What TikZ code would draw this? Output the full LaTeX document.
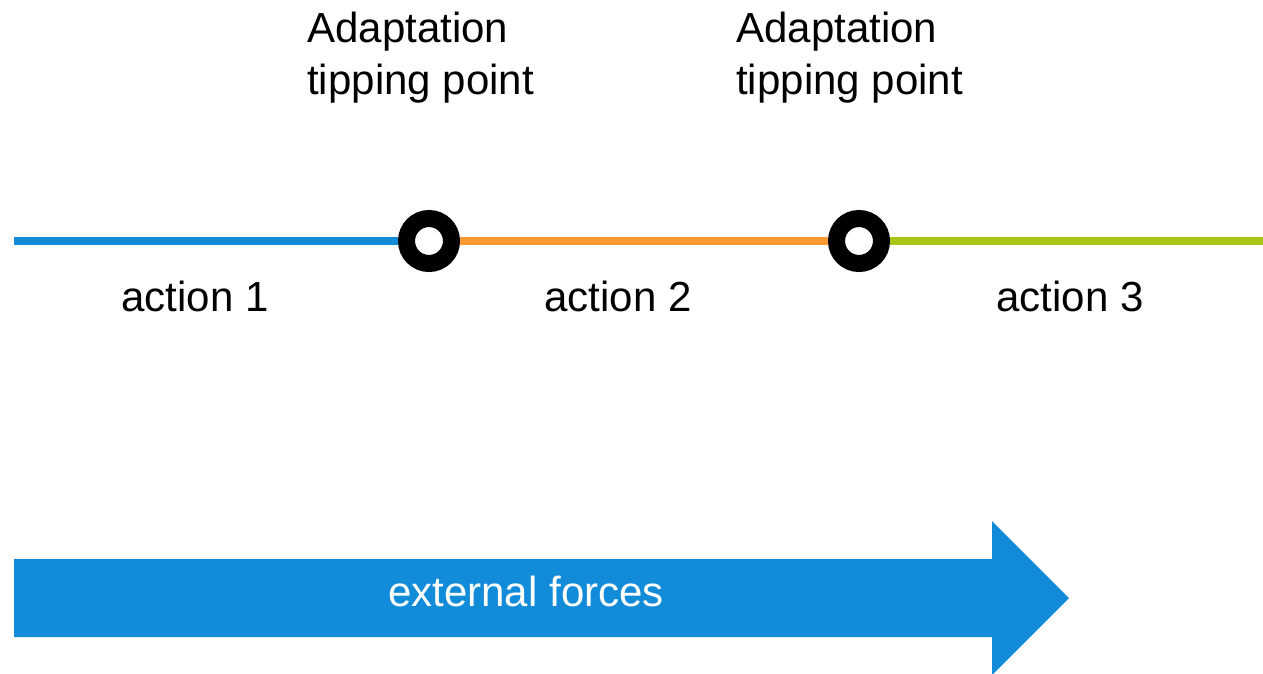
\documentclass[tikz,border=0pt]{standalone}
\usepackage{fontspec}
\setmainfont{Liberation Sans}
\usepackage{tikz}
\usetikzlibrary{positioning}
\definecolor{early}{RGB}{18,139,217}
\definecolor{middle}{RGB}{255,153,51}
\definecolor{late}{RGB}{170,198,20}
\definecolor{force}{RGB}{18,139,217}
\tikzstyle{every label} = [font=\fontsize{29.9}{37}\selectfont]
\tikzstyle{tipping} = [circle, draw=black, fill=white, line width=0.425cm, minimum size=1.125cm, inner sep=0pt]
\tikzstyle{pathway} = [line width=0.2cm]
\tikzstyle{note} = [inner sep=0pt, align=left, anchor=north west, every label]
\tikzstyle{action} = [inner sep=0pt, anchor=base, every label]

\begin{document}
\begin{tikzpicture}[x=0.025cm, y=-0.025cm]
                    \useasboundingbox (0,0) rectangle (1263,673);
                    % timeline
                    \coordinate (start) at (14,241);
                    \coordinate (stop) at (1263,241);
                    \node[tipping] (tp1) at (429,241) {};
                    \node[tipping] (tp2) at (859,241) {};
                    \draw[pathway, early] (start) -- (tp1);
                    \draw[pathway, middle] (tp1) -- (tp2);
                    \draw[pathway, late] (tp2) -- (stop);

                    \node[note] (atp1) at (307,12) {Adaptation\\tipping point};
                    \node[note] (atp2) at (736,12) {Adaptation\\tipping point};

                    \node[action] (act1) at (195,311) {action 1};
                    \node[action] (act2) at (618,311) {action 2};
                    \node[action] (act3) at (1070,311) {action 3};

                    % big arrow
                    \fill[force] (14,559) -- (992,559) -- (992,521) -- (1069,598)
                        -- (992,675) -- (992,637) -- (14,637) -- cycle;
                    \node[action, text=white] (forces) at (526,606) {external forces};
                \end{tikzpicture}
\end{document}
